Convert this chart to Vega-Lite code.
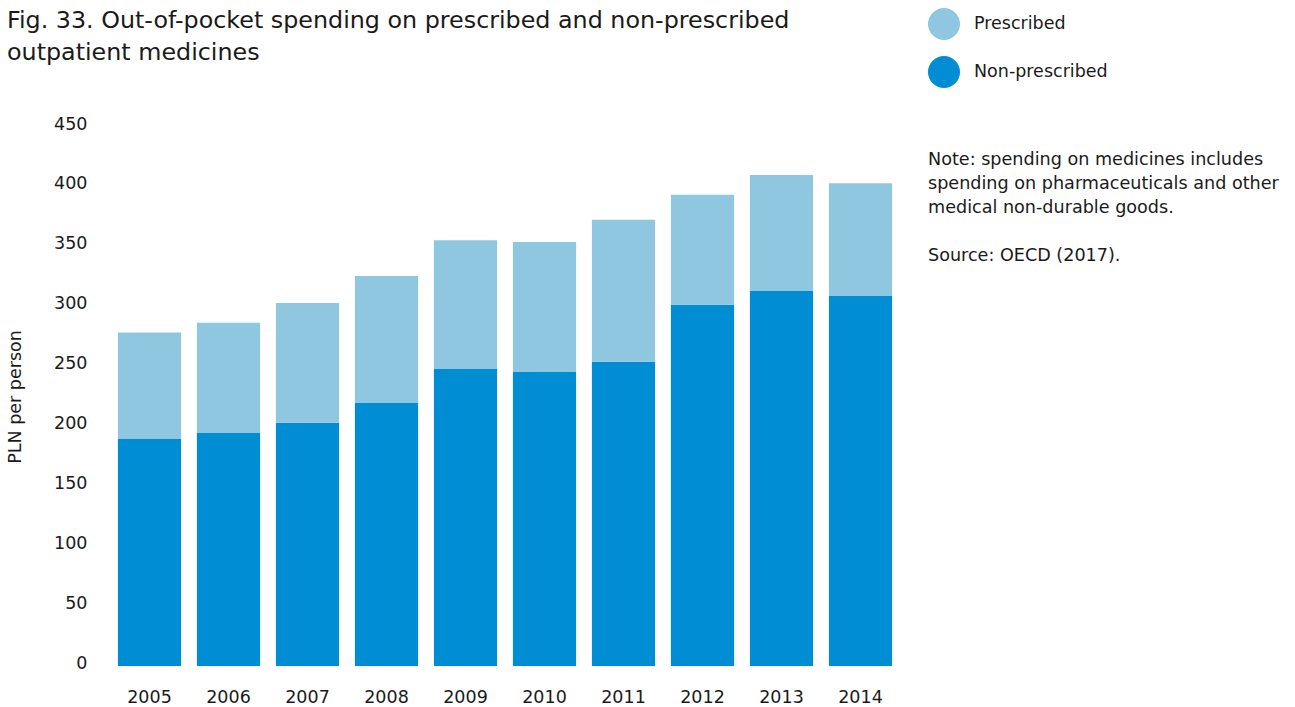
{
  "$schema": "https://vega.github.io/schema/vega-lite/v6.json",
  "width": 790,
  "height": 539,
  "autosize": {"type": "none"},
  "padding": {"left": 110, "top": 127, "right": 395, "bottom": 41},
  "background": "white",
  "title": {
    "text": ["Fig. 33. Out-of-pocket spending on prescribed and non-prescribed", "outpatient medicines"],
    "anchor": "start",
    "frame": "group",
    "dx": -103,
    "dy": 61,
    "font": "DejaVu Sans",
    "fontSize": 23.8,
    "fontWeight": "normal",
    "color": "#1a1a1a",
    "lineHeight": 32
  },
  "data": {
    "values": [
      {"year": "2005", "type": "Non-prescribed", "value": 190},
      {"year": "2005", "type": "Prescribed", "value": 88.5},
      {"year": "2006", "type": "Non-prescribed", "value": 194.5},
      {"year": "2006", "type": "Prescribed", "value": 92},
      {"year": "2007", "type": "Non-prescribed", "value": 203},
      {"year": "2007", "type": "Prescribed", "value": 100},
      {"year": "2008", "type": "Non-prescribed", "value": 219.5},
      {"year": "2008", "type": "Prescribed", "value": 106},
      {"year": "2009", "type": "Non-prescribed", "value": 248},
      {"year": "2009", "type": "Prescribed", "value": 107.5},
      {"year": "2010", "type": "Non-prescribed", "value": 245.5},
      {"year": "2010", "type": "Prescribed", "value": 108.5},
      {"year": "2011", "type": "Non-prescribed", "value": 254},
      {"year": "2011", "type": "Prescribed", "value": 118.5},
      {"year": "2012", "type": "Non-prescribed", "value": 301.5},
      {"year": "2012", "type": "Prescribed", "value": 92},
      {"year": "2013", "type": "Non-prescribed", "value": 313},
      {"year": "2013", "type": "Prescribed", "value": 97},
      {"year": "2014", "type": "Non-prescribed", "value": 309},
      {"year": "2014", "type": "Prescribed", "value": 94}
    ]
  },
  "mark": {"type": "bar"},
  "encoding": {
    "x": {
      "field": "year",
      "type": "ordinal",
      "scale": {"paddingInner": 0.2, "paddingOuter": 0.1},
      "axis": {
        "title": null,
        "labelAngle": 0,
        "domain": false,
        "ticks": false,
        "labelPadding": 22,
        "labelFont": "DejaVu Sans",
        "labelFontSize": 17.5,
        "labelColor": "#1a1a1a"
      }
    },
    "y": {
      "field": "value",
      "type": "quantitative",
      "stack": "zero",
      "scale": {"domain": [0, 450], "nice": false},
      "axis": {
        "title": "PLN per person",
        "titleFont": "DejaVu Sans",
        "titleFontSize": 17.5,
        "titleFontWeight": "normal",
        "titleColor": "#1a1a1a",
        "titlePadding": 29,
        "values": [0, 50, 100, 150, 200, 250, 300, 350, 400, 450],
        "domain": false,
        "ticks": false,
        "grid": false,
        "labelPadding": 23,
        "labelOffset": -3,
        "labelFont": "DejaVu Sans",
        "labelFontSize": 17.5,
        "labelColor": "#1a1a1a"
      }
    },
    "color": {
      "field": "type",
      "type": "nominal",
      "scale": {"domain": ["Prescribed", "Non-prescribed"], "range": ["#8fc7e0", "#008dd4"]},
      "legend": {
        "orient": "none",
        "legendX": 818,
        "legendY": -119,
        "direction": "vertical",
        "symbolType": "circle",
        "symbolSize": 1024,
        "symbolStrokeWidth": 0,
        "symbolOpacity": 1,
        "rowPadding": 16,
        "labelOffset": 14,
        "labelFont": "DejaVu Sans",
        "labelFontSize": 17.5,
        "labelColor": "#1a1a1a",
        "title": ["Note: spending on medicines includes", "spending on pharmaceuticals and other", "medical non-durable goods.", "\u200b", "Source: OECD (2017)."],
        "titleOrient": "bottom",
        "titleAnchor": "start",
        "titleFont": "DejaVu Sans",
        "titleFontSize": 17.6,
        "titleFontWeight": "normal",
        "titleColor": "#1a1a1a",
        "titleLineHeight": 24,
        "titlePadding": 63,
        "titleLimit": 400
      }
    },
    "order": {"field": "type", "sort": "ascending"}
  },
  "config": {
    "view": {"stroke": null},
    "font": "DejaVu Sans"
  }
}
